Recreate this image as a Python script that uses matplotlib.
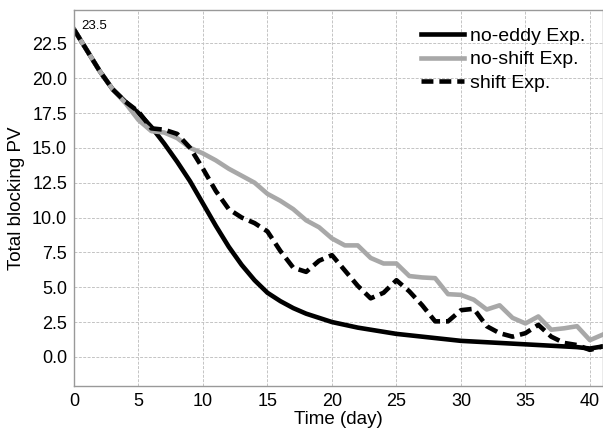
import matplotlib
matplotlib.use("Agg")
import matplotlib.pyplot as plt

days = list(range(0, 42))
no_eddy = [23.5, 22.0, 20.5, 19.2, 18.3, 17.5, 16.5, 15.3, 14.0, 12.6,
           11.0, 9.4, 7.9, 6.6, 5.5, 4.6, 4.0, 3.5, 3.1, 2.8,
           2.5, 2.3, 2.1, 1.95, 1.8, 1.65, 1.55, 1.45, 1.35, 1.25,
           1.15, 1.1, 1.05, 1.0, 0.95, 0.9, 0.85, 0.8, 0.75, 0.7,
           0.6, 0.75]
no_shift = [23.5, 22.0, 20.5, 19.2, 18.2, 17.0, 16.2, 16.1, 15.7, 15.0,
            14.6, 14.1, 13.5, 13.0, 12.5, 11.7, 11.2, 10.6, 9.8, 9.3,
            8.5, 8.0, 8.0, 7.1, 6.7, 6.7, 5.8, 5.7, 5.65, 4.5,
            4.45, 4.1, 3.4, 3.7, 2.8, 2.4, 2.9, 1.95, 2.05, 2.2,
            1.2, 1.6]
shift = [23.5, 22.0, 20.5, 19.2, 18.3, 17.6, 16.4, 16.3, 16.0, 15.0,
         13.5, 11.9, 10.6, 10.0, 9.6, 9.0, 7.6, 6.4, 6.1, 6.9,
         7.3, 6.2, 5.1, 4.2, 4.6, 5.5, 4.7, 3.7, 2.55, 2.55,
         3.35, 3.45, 2.2, 1.7, 1.45, 1.7, 2.3, 1.45, 1.0, 0.85,
         0.5, 0.75]

plt.rcParams['font.family'] = ['Liberation Sans', 'DejaVu Sans']

fig = plt.figure(figsize=(6.03, 4.30), dpi=100)
ax = fig.add_axes([0.1227, 0.102, 0.877, 0.875])

ax.plot(days, no_eddy, '-', color='black', lw=3.3, label='no-eddy Exp.')
ax.plot(days, no_shift, '-', color='#a8a8a8', lw=3.3, label='no-shift Exp.')
ax.plot(days, shift, '--', color='black', lw=3.3, dashes=(2.6, 1.3), label='shift Exp.')

ax.text(0.55, 23.5, '23.5', fontsize=9.5)

ax.set_xlim(0, 41)
ax.set_ylim(-2.1, 24.9)
ax.set_xticks(range(0, 45, 5))
ax.set_yticks([0, 2.5, 5, 7.5, 10, 12.5, 15, 17.5, 20, 22.5])
ax.set_yticklabels(['0.0', '2.5', '5.0', '7.5', '10.0', '12.5', '15.0', '17.5', '20.0', '22.5'])
ax.tick_params(labelsize=13, length=0, pad=5)
ax.grid(True, color='#c4c4c4', linestyle='--', linewidth=0.7, dashes=(3, 1.5))
for s in ax.spines.values():
    s.set_color('#999999')
    s.set_linewidth(1.0)

ax.set_xlabel('Time (day)', fontsize=13.5, labelpad=1)
ax.set_ylabel('Total blocking PV', fontsize=13.5, labelpad=5)

ax.legend(loc='upper right', frameon=False, fontsize=14, handlelength=2.2,
          handletextpad=0.3, labelspacing=0.3, borderaxespad=0.5)

plt.savefig('out.png', dpi=100)
